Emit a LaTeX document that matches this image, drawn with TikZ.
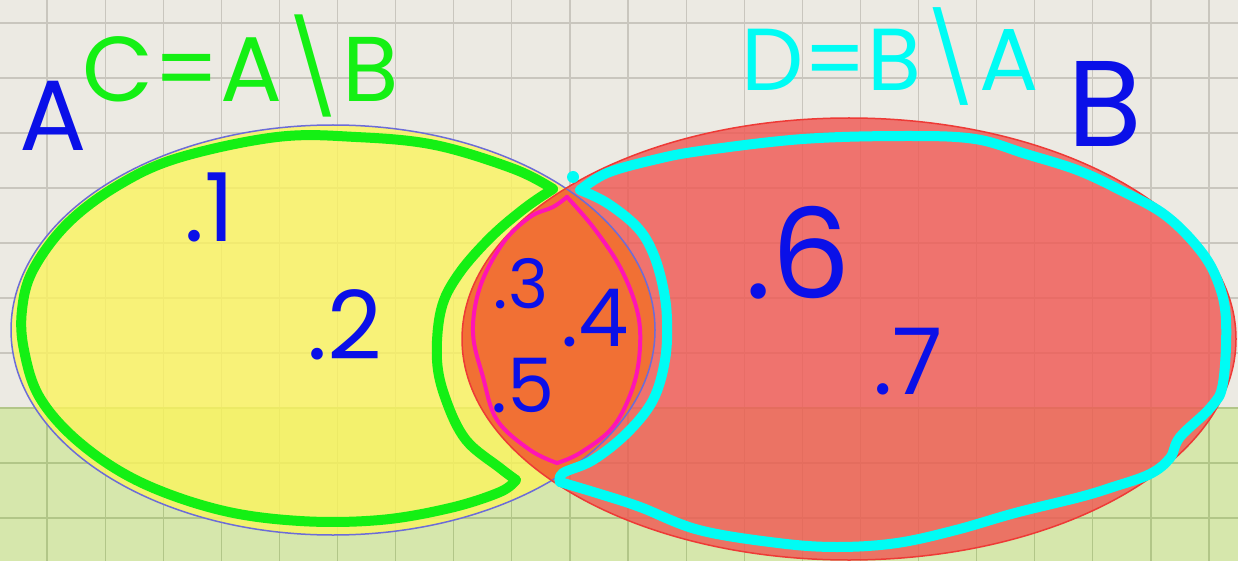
\documentclass[tikz,border=0pt]{standalone}
\usepackage{fontspec}
\newfontfamily\handfont{Poppins}
\usetikzlibrary{calc}
\definecolor{Paper}{HTML}{ECEAE3}
\definecolor{PaperLine}{HTML}{C9C6BE}
\definecolor{Meadow}{HTML}{D6E7AC}
\definecolor{MeadowLine}{HTML}{B2C688}
\definecolor{Lemon}{HTML}{FBF45E}
\definecolor{Coral}{HTML}{F05A55}
\definecolor{Tangerine}{HTML}{F2702E}
\definecolor{Slate}{HTML}{6C6CD8}
\definecolor{Scarlet}{HTML}{EE3A36}
\definecolor{Lime}{HTML}{14F014}
\definecolor{Aqua}{HTML}{00FCF4}
\definecolor{Fuchsia}{HTML}{FF14B4}
\definecolor{Ink}{HTML}{0A10E8}

\begin{document}
\begin{tikzpicture}[
  x=1pt,y=-1pt,
  hand/.style={font=\handfont\fontsize{#1}{#1}\selectfont,inner sep=0pt},
  digit/.style={hand=#1,text=Ink},
  rim/.style={draw=#1,line width=10pt,line cap=round,line join=round},
  lens/.style={draw=Fuchsia,line width=4pt,line cap=round,line join=round},
  gridline/.style={draw=#1,line width=1.2pt},
  setA/.style={x radius=322pt,y radius=205pt},
  setB/.style={x radius=387pt,y radius=221pt}
]
\useasboundingbox (0,0) rectangle (1238,561);
\fill[Paper] (0,0) rectangle (1238,408);
\fill[Meadow] (0,408) rectangle (1238,561);
\foreach \i in {-1,...,20} {
  \draw[gridline=PaperLine] ({47+58.1*\i},0) -- ({47+58.1*\i},408);
  \draw[gridline=MeadowLine] ({47+58.1*\i},408) -- ({47+58.1*\i},561);
}
\foreach \i in {0,...,6} \draw[gridline=PaperLine] (0,{23+55*\i}) -- (1238,{23+55*\i});
\foreach \i in {7,...,9} \draw[gridline=MeadowLine] (0,{23+55*\i}) -- (1238,{23+55*\i});

\coordinate (cA) at (333,330);
\coordinate (cB) at (849,339);
\fill[Lemon,fill opacity=.8] (cA) ellipse[setA];
\fill[Coral,fill opacity=.82] (cB) ellipse[setB];
\begin{scope}
  \clip (cA) ellipse[setA];
  \fill[Tangerine,fill opacity=.85] (cB) ellipse[setB];
\end{scope}
\draw[Slate,line width=1.5pt] (cA) ellipse[setA];
\draw[Scarlet,line width=1.5pt] (cB) ellipse[setB];

\draw[lens] plot[smooth,tension=.6] coordinates {(567,197) (593,227) (620,267) (637,310) (640,347) (633,387) (613,427) (580,453) (557,463)};
\draw[lens] plot[smooth,tension=.6] coordinates {(567,197) (553,207) (530,217) (503,243) (480,287) (473,333) (483,377) (497,420) (530,450) (557,463)};

\draw[rim=Lime] plot[smooth,tension=.6] coordinates {(553,189) (514,169) (435,145) (356,137) (277,137) (178,158) (117,186) (67,224) (33,270) (22,310) (24,350) (40,398) (80,443) (140,482) (220,510) (300,521) (380,520) (450,508) (500,492) (516,480)};
\draw[rim=Lime] plot[smooth,tension=.6] coordinates {(516,480) (500,468) (466,440) (446,400) (437,360) (441,310) (458,275) (490,238) (525,208) (553,189)};

\draw[rim=Aqua] plot[smooth,tension=.6] coordinates {(580,190) (607,173) (653,160) (700,151) (803,139) (906,136) (975,139) (1026,154) (1077,170) (1120,190) (1165,215) (1200,250) (1218,282) (1226,320) (1223,383) (1211,407) (1180,437) (1170,458) (1150,474) (1113,487) (1080,497) (1015,513) (956,530) (897,543) (837,547) (778,543) (699,530) (640,507) (600,494) (560,482)};
\draw[rim=Aqua] plot[smooth,tension=.6] coordinates {(560,482) (563,473) (593,460) (627,433) (653,400) (665,360) (667,320) (663,287) (653,253) (637,227) (607,203) (580,190)};
\fill[Aqua] (573,177) circle (6pt);

\node[hand=100,text=Ink] (labA) at (53,116) {A};
\node[hand=92,text=Lime] (labC) at (241,66) {C=A\textbackslash B};
\node[hand=88,text=Aqua] (labD) at (890,57) {D=B\textbackslash A};
\node[hand=122,text=Ink] (labB) at (1105,104) {B};

\node[digit=95] (n1) at (210,207) {.1};
\node[digit=95] (n2) at (345,325) {.2};
\node[digit=68] (n3) at (521,284) {.3};
\node[digit=80] (n4) at (595,318) {.4};
\node[digit=75] (n5) at (523,386) {.5};
\node[digit=125] (n6) at (798,253) {.6};
\node[digit=92] (n7) at (908,362) {.7};
\end{tikzpicture}
\end{document}
